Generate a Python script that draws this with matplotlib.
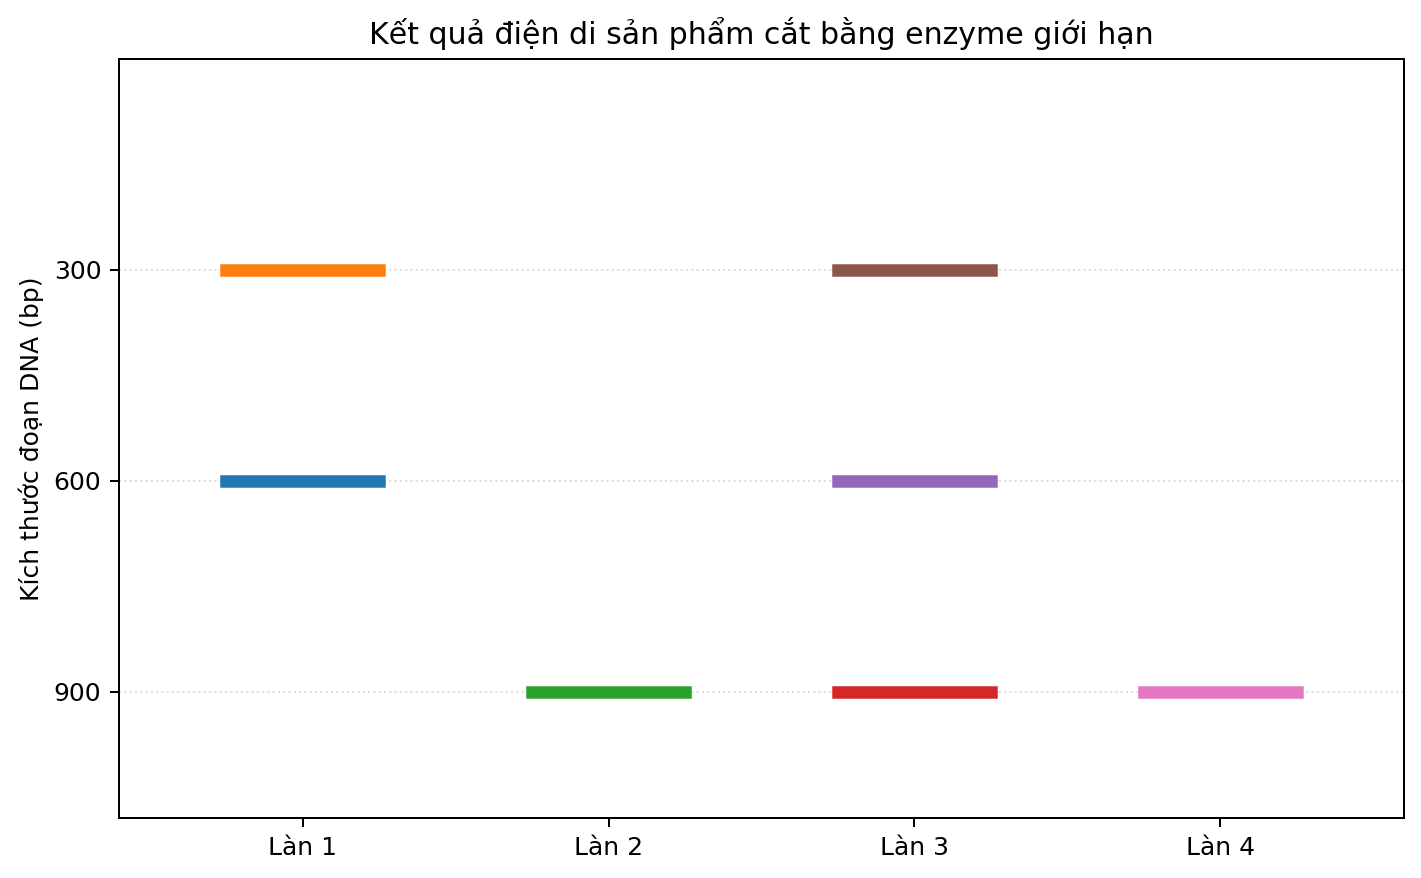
import matplotlib
matplotlib.use("Agg")
import matplotlib.pyplot as plt

lanes = ["Làn 1", "Làn 2", "Làn 3", "Làn 4"]
lane_pos = [1, 2, 3, 4]
# (làn, kích thước bp) theo thứ tự vẽ
band_lane = [1, 1, 2, 3, 3, 3, 4]
band_size = [600, 300, 900, 900, 600, 300, 900]
yticks = [300, 600, 900]

fig, ax = plt.subplots(figsize=(1421/180, 878/180), dpi=180)

for i, (l, s) in enumerate(zip(band_lane, band_size)):
    ax.plot([l - 0.25, l + 0.25], [s, s], color=f"C{i}", linewidth=5,
            solid_capstyle="projecting")

ax.set_xticks(lane_pos)
ax.set_xticklabels(lanes)
ax.set_yticks(yticks)
ax.set_xlim(0.4, 4.6)
ax.set_ylim(max(band_size) * 1.2, 0)
ax.grid(axis="y", linestyle=":", color="lightgray", alpha=0.8)
ax.set_ylabel("Kích thước đoạn DNA (bp)")
ax.set_title("Kết quả điện di sản phẩm cắt bằng enzyme giới hạn")

fig.subplots_adjust(left=119/1421, right=1404/1421, top=1 - 59/878, bottom=1 - 818/878)
fig.savefig("out.png", dpi=180)
